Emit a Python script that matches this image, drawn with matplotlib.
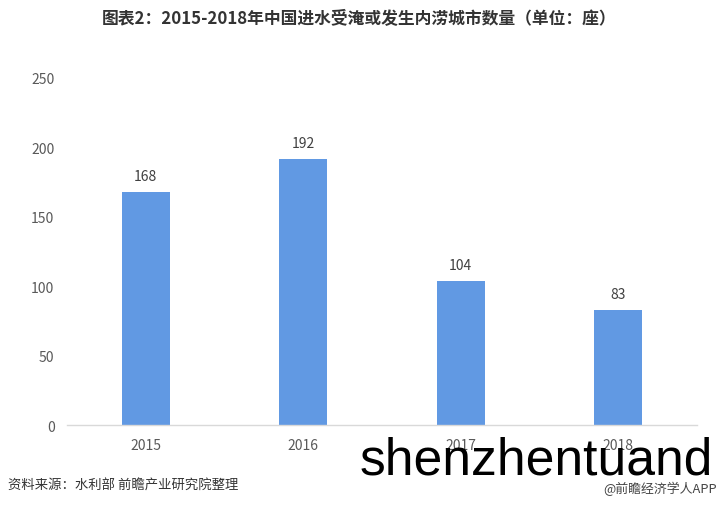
import matplotlib
matplotlib.use("Agg")
import matplotlib.pyplot as plt

plt.rcParams['font.family'] = ['Noto Sans CJK SC', 'DejaVu Sans']

years = ["2015", "2016", "2017", "2018"]
cities = [168, 192, 104, 83]
yticks = [0, 50, 100, 150, 200, 250]

fig = plt.figure(figsize=(7.18, 5.06), dpi=100)
W, H = 718, 506
left, right = 67 / W, 697 / W
bottom, top = 1 - 426 / H, 1 - 79 / H
ax = fig.add_axes([left, bottom, right - left, top - bottom])

x = list(range(len(years)))
ax.bar(x, cities, width=0.305, color='#6199e3', zorder=2)
for xi, v in zip(x, cities):
    ax.annotate(str(v), (xi, v), xytext=(0, 6), textcoords='offset points',
                ha='center', va='bottom', fontsize=10, color='#404040')

ax.set_xlim(-0.5, len(years) - 0.5)
ax.set_ylim(0, 250)
ax.set_yticks(yticks)
ax.set_xticks(x)
ax.set_xticklabels(years)
for s in ['top', 'right', 'left']:
    ax.spines[s].set_visible(False)
ax.spines['bottom'].set_color('#d9d9d9')
ax.spines['bottom'].set_linewidth(1)
ax.tick_params(axis='both', length=0, labelsize=10, labelcolor='#595959')
ax.tick_params(axis='x', pad=9)
ax.tick_params(axis='y', pad=9)

fig.text(0.5, 1 - 19 / H, "图表2：2015-2018年中国进水受淹或发生内涝城市数量（单位：座）",
         ha='center', va='center', fontsize=12.1, fontweight='bold', color='#333333')
fig.text(8 / W, 1 - 486 / H, "资料来源：水利部 前瞻产业研究院整理",
         ha='left', va='center', fontsize=9.6, color='#333333')
fig.text(717 / W, 1 - 489 / H, "@前瞻经济学人APP",
         ha='right', va='center', fontsize=9.3, color='#444444')
fig.text(360 / W, 1 - 475 / H, "shenzhentuand", ha='left', va='baseline',
         fontsize=37.2, color='black', family=['Liberation Sans', 'DejaVu Sans'])

fig.savefig("out.png", dpi=100)
